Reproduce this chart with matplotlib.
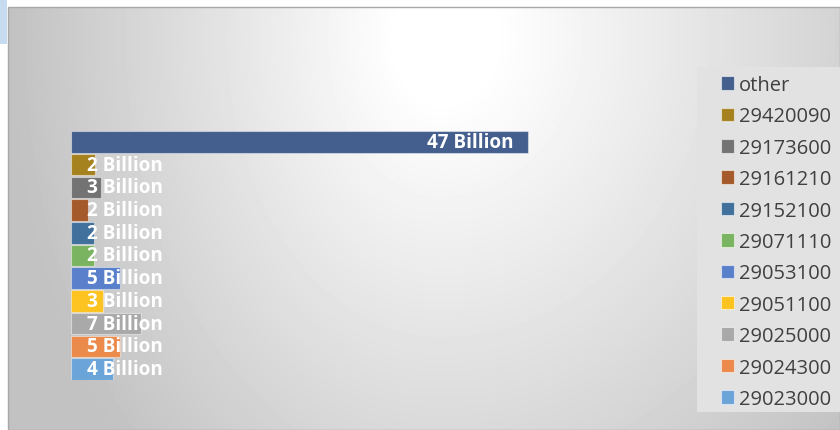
import numpy as np
import matplotlib.pyplot as plt
from matplotlib.patches import Rectangle, Patch

categories = ['other', '29420090', '29173600', '29161210', '29152100', '29071110',
              '29053100', '29051100', '29025000', '29024300', '29023000']
values = [47.0, 2.5, 3.05, 1.7, 2.4, 2.4, 5.0, 3.3, 7.2, 5.0, 4.3]
labels = ['47 Billion', '2 Billion', '3 Billion', '2 Billion', '2 Billion', '2 Billion',
          '5 Billion', '3 Billion', '7 Billion', '5 Billion', '4 Billion']
colors = ['#445F8D', '#A6821F', '#737373', '#A55A2B', '#41709D', '#7BB460',
          '#5A7FCB', '#FDC320', '#A9A9A9', '#EB8A4B', '#6BA4D8']

W, H = 840, 431
plt.rcParams['font.family'] = ['Open Sans', 'DejaVu Sans']
fig = plt.figure(figsize=(W / 100, H / 100), dpi=100)
fig.patch.set_facecolor('white')

# radial gradient background of the chart area (white near top centre)
bg = fig.add_axes([8 / W, 0, 1 - 8 / W, 1 - 8 / H])
xx, yy = np.meshgrid(np.arange(8, W), np.arange(8, H))
rx = np.where(xx < 440, 430.0, 540.0)
r = np.sqrt(((xx - 440) / rx) ** 2 + ((yy - 40) / 600.0) ** 2)
shade = 1.0 - 0.24 * np.clip((r - 0.1) / 0.9, 0, 1)
bg.imshow(shade, cmap='gray', vmin=0, vmax=1, aspect='auto', interpolation='bilinear')
bg.set_axis_off()
fig.add_artist(Rectangle((8 / W, 0), 1 - 8 / W, 1 - 8 / H, transform=fig.transFigure,
                         fill=False, edgecolor='#a8a8a8', linewidth=1))
fig.add_artist(Rectangle((0, 1 - 45 / H), 7 / W, 45 / H, transform=fig.transFigure,
                         facecolor='#c6daf0', edgecolor='none'))

# bars
px_per_unit = 457 / 47.0
top, bottom = 143 - 22.7 / 2, 370 + 22.7 / 2
ax = fig.add_axes([71 / W, 1 - bottom / H, (690 - 71) / W, (bottom - top) / H])
ax.set_xlim(0, (690 - 71) / px_per_unit)
ax.set_ylim(len(categories) - 0.5, -0.5)
ax.patch.set_alpha(0)
ax.set_axis_off()

ypos = np.arange(len(categories))
ax.barh(ypos, values, height=0.95, color=colors, edgecolor=(1, 1, 1, 0.45), linewidth=0.8)
for y, v, lab in zip(ypos, values, labels):
    ax.text(max(v, 10.9) - 1.5, y, lab, ha='right', va='center', color='white',
            fontsize=13.6, fontweight='bold')

# legend: grey panel + frameless legend on top of it
fig.add_artist(Rectangle((697 / W, 1 - 413 / H), (W - 697) / W, (413 - 68) / H,
                         transform=fig.transFigure, facecolor='#e2e2e2', edgecolor='none'))
handles = [Patch(facecolor=c, edgecolor=(1, 1, 1, 0.55), linewidth=0.8) for c in colors]
leg = fig.legend(handles, categories, loc='center left',
                 bbox_to_anchor=(721 / W, 1 - 243 / H), bbox_transform=fig.transFigure,
                 borderaxespad=0, borderpad=0, frameon=False, fontsize=14.5,
                 handlelength=0.65, handleheight=0.65, handletextpad=0.25,
                 labelspacing=0.565, labelcolor='#404040')

fig.savefig('out.png', dpi=100)
